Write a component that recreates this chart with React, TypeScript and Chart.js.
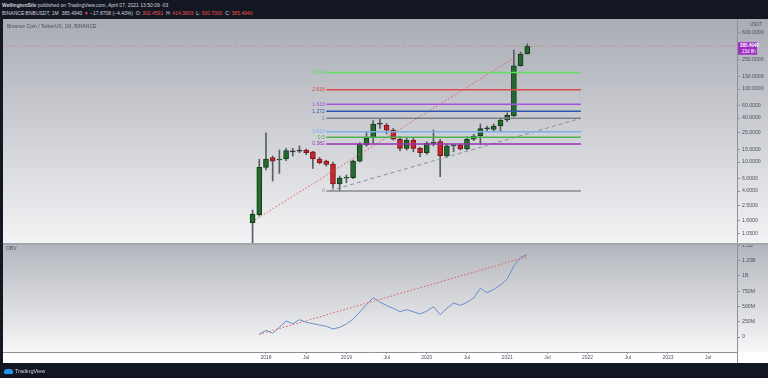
import React, { useEffect, useRef } from 'react';
import { Chart, registerables } from 'chart.js';

Chart.register(...registerables);

// ---------- data ----------
const months = [
  '2017-11', '2017-12',
  '2018-01', '2018-02', '2018-03', '2018-04', '2018-05', '2018-06', '2018-07', '2018-08', '2018-09', '2018-10', '2018-11', '2018-12',
  '2019-01', '2019-02', '2019-03', '2019-04', '2019-05', '2019-06', '2019-07', '2019-08', '2019-09', '2019-10', '2019-11', '2019-12',
  '2020-01', '2020-02', '2020-03', '2020-04', '2020-05', '2020-06', '2020-07', '2020-08', '2020-09', '2020-10', '2020-11', '2020-12',
  '2021-01', '2021-02', '2021-03', '2021-04',
];
const opens = [1.47, 1.9, 8.46, 11.5, 10.65, 11.0, 14.0, 14.1, 14.6, 13.8, 11.0, 10.3, 9.4, 5.0, 6.0, 6.1, 10.3, 17.1, 21.5, 33.2, 31.8, 27.4, 20.5, 15.4, 20.0, 15.4, 13.4, 18.0, 19.0, 12.1, 16.6, 17.1, 15.1, 20.5, 22.7, 28.8, 28.0, 31.4, 37.6, 42.7, 208, 302.4591];
const highs = [2.2, 10.9, 25.2, 12.1, 14.6, 15.4, 15.4, 16.6, 15.1, 14.0, 11.6, 10.6, 10.0, 6.43, 6.64, 10.65, 18.4, 26.0, 36.8, 39.7, 33.9, 28.9, 22.2, 21.1, 21.1, 15.9, 19.0, 27.4, 20.5, 17.6, 17.6, 17.6, 22.2, 23.9, 33.2, 31.1, 33.2, 39.2, 47.3, 342, 320, 414.3803];
const lows = [0.7, 1.82, 7.77, 5.5, 7.0, 10.4, 12.1, 13.4, 12.6, 8.2, 9.4, 8.8, 4.37, 4.0, 5.2, 5.9, 10.0, 16.4, 18.2, 28.9, 24.2, 20.0, 14.2, 14.6, 13.8, 11.8, 12.7, 16.6, 6.3, 11.6, 13.8, 14.6, 14.6, 19.6, 17.5, 26.3, 26.0, 26.0, 35.7, 42.0, 206, 300.7];
const closes = [1.94, 8.46, 11.0, 10.3, 11.0, 14.3, 13.8, 14.3, 13.4, 11.0, 9.78, 9.3, 5.0, 6.0, 6.15, 10.3, 17.5, 21.5, 33.2, 32.9, 27.4, 20.5, 15.4, 20.0, 15.4, 13.4, 18.0, 18.8, 12.2, 16.6, 17.1, 15.1, 20.5, 22.7, 28.6, 28.4, 31.1, 37.6, 43.6, 208, 302, 385.494];

// OBV (millions), Dec 2017 .. Apr 2021
const obvMonths = months.slice(1);
const obvValues = [44, 109, 60, 158, 262, 218, 284, 240, 218, 196, 175, 131, 158, 213, 294, 409, 529, 643, 573, 513, 469, 414, 447, 414, 376, 425, 496, 365, 469, 556, 518, 567, 638, 796, 725, 780, 851, 949, 1162, 1303, 1347];

const priceTicks = [600, 250, 150, 100, 60, 40, 25, 15, 10, 6, 4, 2.5, 1.6, 1.05];
const obvTicks = [0, 250, 500, 750, 1000, 1250, 1500];
const obvTickLabels = ['0', '250M', '500M', '750M', '1B', '1.25B', '1.5B'];
const timeTickMonths = ['2018-01', '2018-07', '2019-01', '2019-07', '2020-01', '2020-07', '2021-01', '2021-07', '2022-01', '2022-07', '2023-01', '2023-07'];
const timeTickLabels = ['2018', 'Jul', '2019', 'Jul', '2020', 'Jul', '2021', 'Jul', '2022', 'Jul', '2023', 'Jul'];

const fibRatios = [4.618, 2.618, 1.618, 1.272, 1, 0.618, 0.5, 0.382, 0];
const fibLabels = ['4.618', '2.618', '1.618', '1.272', '1', '0.618', '0.5', '0.382', '0'];
const fibColors = ['#5fe05f', '#de4a4c', '#a552de', '#2c57ae', '#7b7e86', '#7db0e4', '#4fb251', '#9d32b3', '#878a92'];
const fibLow = 4.0;
const fibHigh = 39.7;
const fibFrom = '2018-10';
const fibTo = '2021-12';

// trend lines (month offset from Jan 2018, value)
const priceTrendX = [-1.64, 36.9];
const priceTrendY = [1.61, 263];
const supportTrendX = [9.55, 47];
const supportTrendY = [4.05, 39.7];
const obvTrendX = [-1, 39];
const obvTrendY = [44, 1314];
const lastPrice = 385.494;

// ---------- helpers ----------
const X_MIN = -39.25;
const X_MAX = 70.3;
const FONT = '"Liberation Sans", Arial, sans-serif';
const monthIndex = (s: string) => {
  const [y, m] = s.split('-').map(Number);
  return (y - 2018) * 12 + (m - 1);
};

const makeBg = (top: string, bottom: string) => ({
  id: 'bgPane',
  beforeDraw(chart: any) {
    const { ctx, chartArea: a, width, height } = chart;
    ctx.save();
    ctx.fillStyle = '#ffffff';
    ctx.fillRect(0, 0, width, height);
    const g = ctx.createLinearGradient(0, a.top, 0, a.bottom);
    g.addColorStop(0, top);
    g.addColorStop(1, bottom);
    ctx.fillStyle = g;
    ctx.fillRect(0, a.top, width, a.bottom - a.top);
    ctx.restore();
  },
  afterDraw(chart: any) {
    const { ctx, chartArea: a, height } = chart;
    ctx.save();
    ctx.strokeStyle = '#8e9199';
    ctx.lineWidth = 1;
    ctx.beginPath();
    ctx.moveTo(Math.round(a.right) + 0.5, 0);
    ctx.lineTo(Math.round(a.right) + 0.5, height);
    ctx.stroke();
    ctx.restore();
  },
});

export default function App() {
  const mainRef = useRef<HTMLCanvasElement>(null);
  const obvRef = useRef<HTMLCanvasElement>(null);

  useEffect(() => {
    Chart.defaults.font.family = FONT;
    const xs = months.map(monthIndex);
    const isDoji = (i: number) => Math.abs(closes[i] - opens[i]) / opens[i] < 0.025;
    const bodyColors = xs.map((_, i) => (isDoji(i) ? '#2a2d35' : closes[i] >= opens[i] ? '#246a2f' : '#c4262d'));
    const bodyBorders = xs.map((_, i) => (isDoji(i) ? '#2a2d35' : closes[i] >= opens[i] ? '#123a18' : '#7e1517'));

    const datasets: any[] = [];
    fibRatios.forEach((r, k) => {
      const p = fibLow + r * (fibHigh - fibLow);
      datasets.push({
        type: 'line',
        data: [{ x: monthIndex(fibFrom), y: p }, { x: monthIndex(fibTo), y: p }],
        borderColor: fibColors[k], borderWidth: 1.5, pointRadius: 0, order: 0,
      });
    });
    datasets.push({
      type: 'line',
      data: priceTrendX.map((x, i) => ({ x, y: priceTrendY[i] })),
      borderColor: '#e05a5a', borderDash: [1.5, 2], borderWidth: 1, pointRadius: 0, order: 0,
    });
    datasets.push({
      type: 'line',
      data: supportTrendX.map((x, i) => ({ x, y: supportTrendY[i] })),
      borderColor: '#8b8e96', borderDash: [4, 3], borderWidth: 1, pointRadius: 0, order: 0,
    });
    datasets.push({
      type: 'line',
      data: [{ x: X_MIN, y: lastPrice }, { x: X_MAX, y: lastPrice }],
      borderColor: 'rgba(200,95,95,0.6)', borderDash: [1, 2], borderWidth: 1, pointRadius: 0, order: 0,
    });
    datasets.push({
      type: 'bar',
      data: xs.map((x, i) => ({ x, y: [opens[i], closes[i]] })),
      backgroundColor: bodyColors, borderColor: bodyBorders, borderWidth: 1, borderSkipped: false,
      barThickness: 5, grouped: false, minBarLength: 1, order: 1,
    });
    datasets.push({
      type: 'bar',
      data: xs.map((x, i) => ({ x, y: [lows[i], highs[i]] })),
      backgroundColor: '#5a5d65', barThickness: 1, grouped: false, order: 2,
    });

    const fibLabelPlugin = {
      id: 'fibLabels',
      afterDatasetsDraw(chart: any) {
        const { ctx, scales } = chart;
        ctx.save();
        ctx.font = `5px ${FONT}`;
        ctx.textAlign = 'right';
        ctx.textBaseline = 'middle';
        fibRatios.forEach((r, k) => {
          const p = fibLow + r * (fibHigh - fibLow);
          ctx.fillStyle = fibColors[k];
          ctx.fillText(fibLabels[k], scales.x.getPixelForValue(monthIndex(fibFrom)) - 1.5, scales.y.getPixelForValue(p));
        });
        ctx.restore();
      },
      afterDraw(chart: any) {
        const { ctx, scales, chartArea: a, width } = chart;
        const y = scales.y.getPixelForValue(lastPrice);
        ctx.save();
        ctx.fillStyle = '#a12fc6';
        ctx.fillRect(a.right + 1, y - 4, 19, 12.5);
        ctx.fillStyle = '#ffffff';
        ctx.font = `bold 4.5px ${FONT}`;
        ctx.textAlign = 'left';
        ctx.textBaseline = 'middle';
        ctx.fillText(lastPrice.toFixed(4), a.right + 3, y - 0.3);
        ctx.font = `4.5px ${FONT}`;
        ctx.fillText('23d 8h', a.right + 5, y + 5.2);
        ctx.restore();
      },
    };

    const main = new Chart(mainRef.current as HTMLCanvasElement, {
      type: 'bar',
      data: { datasets },
      options: {
        responsive: false,
        animation: false,
        events: [],
        layout: { padding: 0 },
        plugins: { legend: { display: false }, tooltip: { enabled: false } },
        scales: {
          x: { type: 'linear', min: X_MIN, max: X_MAX, display: false, offset: false },
          y: {
            type: 'logarithmic', position: 'right', min: 0.7772, max: 910, bounds: 'data',
            afterBuildTicks: (s: any) => { s.ticks = priceTicks.map((v) => ({ value: v })); },
            afterFit: (s: any) => { s.width = 31; s.paddingTop = 0; s.paddingBottom = 0; },
            ticks: {
              autoSkip: false, color: '#4d505b', padding: 2, font: { size: 5.2, family: FONT },
              callback: (v: any) => Number(v).toFixed(4),
            },
            grid: { display: true, drawOnChartArea: false, drawTicks: true, tickLength: 3, color: '#8e9199' },
            border: { display: true, color: '#8e9199' },
          },
        },
      } as any,
      plugins: [makeBg('#a9acb4', '#f3f3f5'), fibLabelPlugin],
    } as any);

    const obv = new Chart(obvRef.current as HTMLCanvasElement, {
      type: 'line',
      data: {
        datasets: [
          {
            data: obvMonths.map((m, i) => ({ x: monthIndex(m), y: obvValues[i] })),
            borderColor: '#6b8ecb', borderWidth: 1, pointRadius: 0, order: 1,
          },
          {
            data: obvTrendX.map((x, i) => ({ x, y: obvTrendY[i] })),
            borderColor: '#e05a5a', borderDash: [1.5, 2], borderWidth: 1, pointRadius: 0, order: 0,
          },
        ],
      },
      options: {
        responsive: false,
        animation: false,
        events: [],
        layout: { padding: 0 },
        plugins: { legend: { display: false }, tooltip: { enabled: false } },
        scales: {
          x: {
            type: 'linear', position: 'bottom', min: X_MIN, max: X_MAX, bounds: 'data', offset: false,
            afterBuildTicks: (s: any) => { s.ticks = timeTickMonths.map((m) => ({ value: monthIndex(m) })); },
            afterFit: (s: any) => { s.height = 11; s.paddingLeft = 0; s.paddingRight = 0; },
            ticks: {
              autoSkip: false, maxRotation: 0, color: '#4d505b', padding: 1, font: { size: 5, family: FONT },
              callback: (_v: any, i: number) => timeTickLabels[i],
            },
            grid: { display: true, drawOnChartArea: false, drawTicks: true, tickLength: 2, color: '#8e9199' },
            border: { display: true, color: '#8e9199' },
          },
          y: {
            type: 'linear', position: 'right', min: -245, max: 1505, bounds: 'data',
            afterBuildTicks: (s: any) => { s.ticks = obvTicks.map((v) => ({ value: v })); },
            afterFit: (s: any) => { s.width = 31; s.paddingTop = 0; s.paddingBottom = 0; },
            ticks: {
              autoSkip: false, color: '#4d505b', padding: 2, font: { size: 5.2, family: FONT },
              callback: (_v: any, i: number) => obvTickLabels[i],
            },
            grid: { display: true, drawOnChartArea: false, drawTicks: true, tickLength: 3, color: '#8e9199' },
            border: { display: true, color: '#8e9199' },
          },
        },
      } as any,
      plugins: [makeBg('#b3b6bd', '#f7f7f8')],
    } as any);

    return () => {
      main.destroy();
      obv.destroy();
    };
  }, []);

  const red = { color: '#ef5350' };
  const txt: any = { position: 'absolute', whiteSpace: 'nowrap', fontFamily: FONT };

  return (
    <div style={{ position: 'fixed', left: 0, top: 0, width: 768, height: 378, background: '#131722', overflow: 'hidden', fontFamily: FONT }}>
      <div style={{ ...txt, left: 2, top: 2, fontSize: 5, lineHeight: '6px', color: '#d1d4dc' }}>
        <b>WellingtonSilv</b> published on TradingView.com, April 07, 2021 13:50:09 -03
      </div>
      <div style={{ ...txt, left: 2, top: 9.5, fontSize: 5, lineHeight: '6px', color: '#d1d4dc' }}>
        BINANCE:BNBUSDT, 1M&nbsp; 385.4940 <span style={red}>▼</span> −17.8708 (−4.43%)&nbsp; O: <span style={red}>302.4591</span>&nbsp; H: <span style={red}>414.3803</span>&nbsp; L: <span style={red}>300.7000</span>&nbsp; C: <span style={red}>385.4940</span>
      </div>
      <canvas ref={mainRef} width={765} height={224} style={{ position: 'absolute', left: 3, top: 19, width: 765, height: 224 }} />
      <div style={{ position: 'absolute', left: 3, top: 243, width: 765, height: 2, background: '#a2a5ac' }} />
      <canvas ref={obvRef} width={765} height={118} style={{ position: 'absolute', left: 3, top: 245, width: 765, height: 118 }} />
      <div style={{ ...txt, left: 7, top: 22.5, fontSize: 5, color: '#4f525c' }}>Binance Coin / TetherUS, 1M, BINANCE</div>
      <div style={{ ...txt, left: 750, top: 21.5, fontSize: 4.5, color: '#4f525c' }}>USDT</div>
      <div style={{ ...txt, left: 6, top: 245, fontSize: 5, color: '#4f525c' }}>OBV</div>
      <div style={{ position: 'absolute', left: 4, top: 369, width: 9, height: 5, background: '#2196f3', borderRadius: '3px 3px 1px 1px' }} />
      <div style={{ ...txt, left: 15, top: 368, fontSize: 5.5, color: '#d1d4dc' }}>TradingView</div>
    </div>
  );
}
